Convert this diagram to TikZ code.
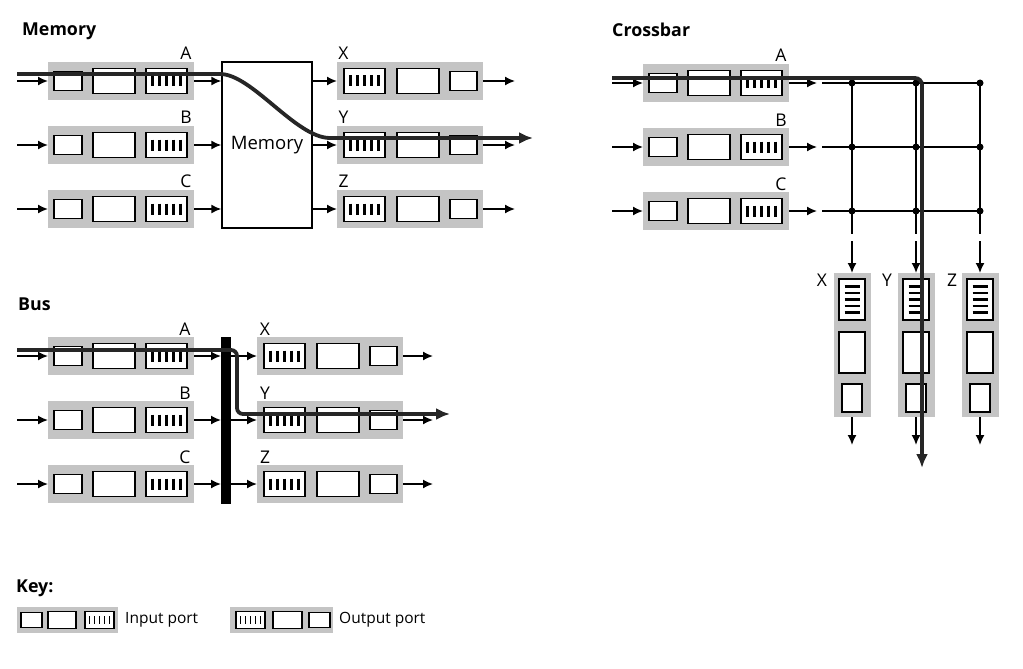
\documentclass[tikz,border=0pt]{standalone}
\usepackage{fontspec}
\setmainfont{Open Sans}
\usetikzlibrary{arrows.meta}
\definecolor{portgray}{RGB}{196,196,196}
\definecolor{routecol}{RGB}{38,38,38}
\tikzset{
  graybox/.style={fill=portgray, draw=none, inner sep=0pt, outer sep=0pt},
  wbox/.style={fill=white, draw=black, line width=1.6pt, inner sep=0pt, outer sep=0pt},
  arr/.style={line width=1.6pt, -{Latex[length=10pt,width=9pt]}},
  gridline/.style={line width=1.6pt},
  stripe/.style={line width=2.4pt},
  keystripe/.style={line width=1.6pt},
  route/.style={line width=3.8pt, draw=routecol, -{Latex[length=14pt,width=12pt]}},
  lbl/.style={font=\fontsize{17.5}{19}\selectfont, inner sep=0pt},
  keytxt/.style={font=\fontsize{15.5}{18}\selectfont, inner sep=0pt},
  ttl/.style={font=\fontsize{17.8}{20}\selectfont\bfseries, inner sep=0pt, anchor=base west},
  jdot/.style={circle, fill=black, inner sep=0pt, minimum size=7pt},
}
% input port: name, left x, centre y
\newcommand{\inport}[3]{%
  \node[graybox, minimum width=146pt, minimum height=38pt, anchor=west] (#1) at (#2,#3) {};
  \node[wbox, minimum width=28pt, minimum height=19pt, anchor=west] (#1-s) at ([xshift=6pt]#1.west) {};
  \node[wbox, minimum width=42pt, minimum height=25pt, anchor=west] (#1-m) at ([xshift=45pt]#1.west) {};
  \node[wbox, minimum width=41pt, minimum height=25pt, anchor=west] (#1-q) at ([xshift=98pt]#1.west) {};
  \foreach \d in {-14,-7,0,7,14}
    \draw[stripe] ([xshift=\d pt,yshift=5.5pt]#1-q.center) -- ([xshift=\d pt,yshift=-5.5pt]#1-q.center);
}
% output port: name, left x, centre y
\newcommand{\outport}[3]{%
  \node[graybox, minimum width=146pt, minimum height=38pt, anchor=west] (#1) at (#2,#3) {};
  \node[wbox, minimum width=41pt, minimum height=25pt, anchor=west] (#1-q) at ([xshift=7pt]#1.west) {};
  \node[wbox, minimum width=42pt, minimum height=25pt, anchor=west] (#1-m) at ([xshift=60pt]#1.west) {};
  \node[wbox, minimum width=27pt, minimum height=19pt, anchor=west] (#1-s) at ([xshift=113pt]#1.west) {};
  \foreach \d in {-14,-7,0,7,14}
    \draw[stripe] ([xshift=\d pt,yshift=5.5pt]#1-q.center) -- ([xshift=\d pt,yshift=-5.5pt]#1-q.center);
}
% vertical output port: name, centre x, top y
\newcommand{\vport}[3]{%
  \node[graybox, minimum width=37pt, minimum height=144pt, anchor=north] (#1) at (#2,#3) {};
  \node[wbox, minimum width=26pt, minimum height=41pt, anchor=north] (#1-q) at ([yshift=-6pt]#1.north) {};
  \node[wbox, minimum width=26pt, minimum height=41pt, anchor=north] (#1-m) at ([yshift=-59pt]#1.north) {};
  \node[wbox, minimum width=20pt, minimum height=28pt, anchor=north] (#1-s) at ([yshift=-111pt]#1.north) {};
  \foreach \d in {-13,-6.5,0,6.5,13}
    \draw[stripe] ([xshift=-7.5pt,yshift=\d pt]#1-q.center) -- ([xshift=7.5pt,yshift=\d pt]#1-q.center);
}
\begin{document}
\begin{tikzpicture}[x=1pt,y=-1pt]
\useasboundingbox (0,0) rectangle (1023,669);

%================ MEMORY =================
\node[ttl] (tmem) at (22,36) {Memory};
\inport{mA}{48}{81}
\inport{mB}{48}{145}
\inport{mC}{48}{209}
\node[lbl, anchor=base] (lmA) at (186,59.5) {A};
\node[lbl, anchor=base] (lmB) at (186,123.5) {B};
\node[lbl, anchor=base] (lmC) at (186,187.5) {C};
\node[draw, line width=1.4pt, minimum width=90pt, minimum height=166pt, inner sep=0pt,
      font=\fontsize{18.5}{20}\selectfont] (mem) at (267,145) {Memory};
\outport{mX}{337}{81}
\outport{mY}{337}{145}
\outport{mZ}{337}{209}
\node[lbl, anchor=base] (lmX) at (343.5,59.5) {X};
\node[lbl, anchor=base] (lmY) at (343.5,123.5) {Y};
\node[lbl, anchor=base] (lmZ) at (343.5,187.5) {Z};
\foreach \p/\q/\y in {A/X/81,B/Y/145,C/Z/209}{
  \coordinate (m\p in) at (17,\y);
  \coordinate (m\q out) at (515,\y);
  \draw[arr] (m\p in) -- (m\p);
  \draw[arr] (m\p) -- (m\p -| mem.west);
  \draw[arr] (m\q -| mem.east) -- (m\q);
  \draw[arr] (m\q) -- (m\q out);
}
\coordinate (mr0) at (17,74);
\coordinate (mr1) at (220,74);
\coordinate (mr2) at (330,138);
\coordinate (mr3) at (533,138);
\draw[route] (mr0) -- (mr1) .. controls (252,74) and (296,138) .. (mr2) -- (mr3);

%================ CROSSBAR =================
\node[ttl] (tcross) at (612,37) {Crossbar};
\inport{xA}{643}{83}
\inport{xB}{643}{147}
\inport{xC}{643}{211}
\node[lbl, anchor=base] (lxA) at (781,62) {A};
\node[lbl, anchor=base] (lxB) at (781,126) {B};
\node[lbl, anchor=base] (lxC) at (781,190) {C};
\foreach \p/\i/\y in {A/1/83,B/2/147,C/3/211}{
  \coordinate (x\p in) at (612,\y);
  \coordinate (x\p out) at (817,\y);
  \coordinate (h\i) at (822,\y);
  \draw[arr] (x\p in) -- (x\p);
  \draw[arr] (x\p) -- (x\p out);
  \foreach \j/\x in {1/852,2/916,3/980}
    \node[jdot] (g\i\j) at (\x,\y) {};
  \draw[gridline] (h\i) -- (g\i3.center);
}
\vport{vX}{852}{273}
\vport{vY}{916}{273}
\vport{vZ}{980}{273}
\node[lbl] (lvX) at (822,280) {X};
\node[lbl] (lvY) at (887,280) {Y};
\node[lbl] (lvZ) at (952,280) {Z};
\foreach \j/\o/\x in {1/X/852,2/Y/916,3/Z/980}{
  \coordinate (b\j) at (\x,234);
  \coordinate (c\j) at (\x,241);
  \coordinate (v\o out) at (\x,445);
  \draw[gridline] (g1\j.center) -- (b\j);
  \draw[arr] (c\j) -- (v\o);
  \draw[arr] (v\o) -- (v\o out);
}
\coordinate (xr0) at (612,78);
\coordinate (xr1) at (922,78);
\coordinate (xr2) at (922,468);
\draw[route, rounded corners=7pt] (xr0) -- (xr1) -- (xr2);

%================ BUS =================
\node[ttl] (tbus) at (18,310) {Bus};
\inport{bA}{48}{356}
\inport{bB}{48}{420}
\inport{bC}{48}{484}
\node[lbl, anchor=base] (lbA) at (185,335.5) {A};
\node[lbl, anchor=base] (lbB) at (185,399.5) {B};
\node[lbl, anchor=base] (lbC) at (185,463.5) {C};
\node[fill=black, minimum width=10pt, minimum height=167pt, inner sep=0pt, outer sep=0pt] (bus) at (226,420.5) {};
\outport{bX}{257}{356}
\outport{bY}{257}{420}
\outport{bZ}{257}{484}
\node[lbl, anchor=base] (lbX) at (265,335.5) {X};
\node[lbl, anchor=base] (lbY) at (265,399.5) {Y};
\node[lbl, anchor=base] (lbZ) at (265,463.5) {Z};
\foreach \p/\q/\y in {A/X/356,B/Y/420,C/Z/484}{
  \coordinate (b\p in) at (17,\y);
  \coordinate (b\q out) at (433,\y);
  \draw[arr] (b\p in) -- (b\p);
  \draw[arr] (b\p) -- (b\p -| bus.west);
  \draw[arr] (b\q -| bus.east) -- (b\q);
  \draw[arr] (b\q) -- (b\q out);
}
\coordinate (br0) at (17,350);
\coordinate (br1) at (237,350);
\coordinate (br2) at (237,414);
\coordinate (br3) at (450,414);
\draw[route, rounded corners=6pt] (br0) -- (br1) -- (br2) -- (br3);

%================ KEY =================
\node[ttl] (tkey) at (16,592) {Key:};
\node[graybox, minimum width=101pt, minimum height=26pt, anchor=west] (kin) at (17,620) {};
\node[wbox, minimum width=21pt, minimum height=15pt, anchor=west] (kin-s) at ([xshift=4pt]kin.west) {};
\node[wbox, minimum width=28pt, minimum height=17pt, anchor=west] (kin-m) at ([xshift=31pt]kin.west) {};
\node[wbox, minimum width=29pt, minimum height=17pt, anchor=west] (kin-q) at ([xshift=68pt]kin.west) {};
\foreach \d in {-10,-5,0,5,10}
  \draw[keystripe] ([xshift=\d pt,yshift=4pt]kin-q.center) -- ([xshift=\d pt,yshift=-4pt]kin-q.center);
\node[keytxt, anchor=west] (kint) at (125,620) {Input port};
\node[graybox, minimum width=103pt, minimum height=26pt, anchor=west] (kout) at (230,620) {};
\node[wbox, minimum width=29pt, minimum height=17pt, anchor=west] (kout-q) at ([xshift=6pt]kout.west) {};
\node[wbox, minimum width=29pt, minimum height=17pt, anchor=west] (kout-m) at ([xshift=43pt]kout.west) {};
\node[wbox, minimum width=21pt, minimum height=15pt, anchor=west] (kout-s) at ([xshift=79pt]kout.west) {};
\foreach \d in {-10,-5,0,5,10}
  \draw[keystripe] ([xshift=\d pt,yshift=4pt]kout-q.center) -- ([xshift=\d pt,yshift=-4pt]kout-q.center);
\node[keytxt, anchor=west] (koutt) at (339,620) {Output port};
\end{tikzpicture}
\end{document}
